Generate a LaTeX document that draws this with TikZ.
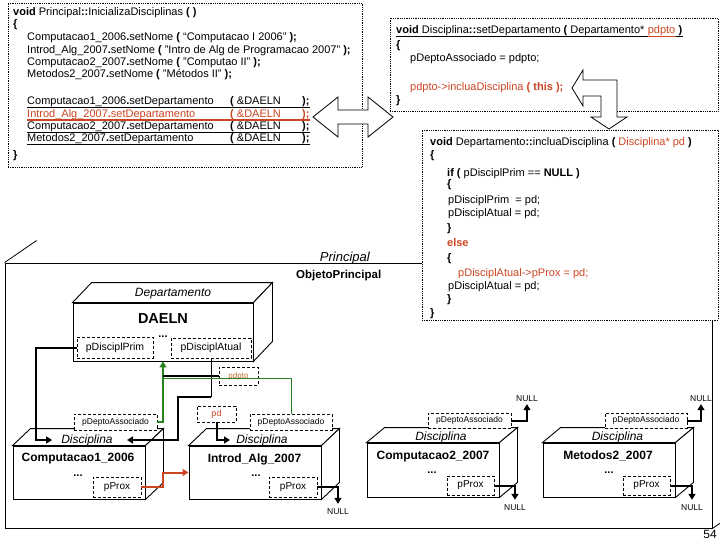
\documentclass[tikz,border=0pt]{standalone}
\usepackage{fontspec}
\setmainfont{Liberation Sans}
\usetikzlibrary{calc,arrows.meta}
\definecolor{cred}{RGB}{205,70,35}
\definecolor{cgreen}{RGB}{40,130,30}
\definecolor{cpdpto}{RGB}{190,110,40}
\newcommand\cubedepth[3]{%
  \draw[fill=white,line width=0.9pt] (#1.north west) -- ++(#2,-#3) -- ($(#1.north east)+(#2,-#3)$) -- (#1.north east) -- cycle;
  \draw[fill=white,line width=0.9pt] (#1.north east) -- ($(#1.north east)+(#2,-#3)$) -- ($(#1.south east)+(#2,-#3)$) -- (#1.south east) -- cycle;}
\begin{document}
\begin{tikzpicture}[x=1pt,y=-1pt,
  code/.style={font=\fontsize{11}{13}\selectfont, inner sep=0pt, anchor=base west},
  codebox/.style={draw, dash pattern=on 0.8pt off 1pt, fill=white, line width=0.7pt, inner sep=0pt},
  ptrbox/.style={draw, dash pattern=on 3pt off 2pt, fill=white, inner sep=0pt, line width=0.8pt},
  front/.style={draw, fill=white, line width=0.9pt, inner sep=0pt},
  ptr/.style={line width=2pt, -{Triangle[length=6pt,width=7pt]}},
  disc/.style={font=\fontsize{12}{14}\selectfont\itshape, inner sep=0pt},
  objname/.style={font=\fontsize{12}{14}\selectfont\bfseries, inner sep=0pt},
  dotsx/.style={font=\fontsize{11}{12}\selectfont\bfseries, inner sep=0pt},
  small/.style={font=\fontsize{8.5}{10}\selectfont},
  nulltxt/.style={font=\fontsize{8.5}{10}\selectfont, inner sep=0pt},
  bigarrow/.style={draw, fill=white, line width=0.8pt, line join=miter}]
\clip (0,0) rectangle (720,540);
\fill[white] (0,0) rectangle (720,540);

% ---------- Principal object ----------
\node[draw, line width=0.9pt, minimum width=707pt, minimum height=265pt, inner sep=0pt] (prin) at (358.5,395.5) {};
\draw[line width=0.8pt] (prin.north west) -- ++(32,-22);
\draw[line width=0.8pt] (prin.south east) -- ++(32,-22);
\node[font=\fontsize{13}{15}\selectfont\itshape, anchor=base east, inner sep=0pt] (plab) at (370,261) {Principal};
\node[font=\fontsize{11.5}{13}\selectfont\bfseries, anchor=base west, inner sep=0pt] (olab) at (296,278) {ObjetoPrincipal};

% ---------- Departamento DAELN ----------
\node[front, minimum width=180pt, minimum height=58pt] (dep) at (163,332) {};
\cubedepth{dep}{19}{20}
\node[font=\fontsize{12}{14}\selectfont\itshape, inner sep=0pt] (deplab) at (173,294) {Departamento};
\node[font=\fontsize{14.5}{16}\selectfont\bfseries, inner sep=0pt] (daeln) at (163,318.5) {DAELN};
\node[ptrbox, minimum width=76pt, minimum height=21pt, font=\fontsize{10.5}{12}\selectfont] (dprim) at (115,347.5) {pDisciplPrim};
\node[ptrbox, minimum width=80pt, minimum height=20pt, font=\fontsize{10.5}{12}\selectfont] (datual) at (211,348) {pDisciplAtual};
\node[dotsx] (ddots) at (163,336.5) {...};
\node[ptrbox, minimum width=39pt, minimum height=18pt, font=\fontsize{8}{9}\selectfont, text=cpdpto] (pdpto) at (238.5,376) {pdpto};

% ---------- Disciplina objects ----------
\node[front, minimum width=132pt, minimum height=53pt] (c1) at (79,472.5) {};
\cubedepth{c1}{18}{17}
\node[front, minimum width=132pt, minimum height=53pt] (i1) at (255,472.5) {};
\cubedepth{i1}{18}{17}
\node[front, minimum width=132pt, minimum height=54pt] (c2) at (433,470) {};
\cubedepth{c2}{18}{15}
\node[front, minimum width=132pt, minimum height=54pt] (m2) at (609,470) {};
\cubedepth{m2}{18}{15}

\node[disc] (c1lab) at (87,440) {Disciplina};
\node[objname] (c1name) at (78,459) {Computacao1\_2006};
\node[dotsx] (c1dots) at (78,476) {...};
\node[ptrbox, minimum width=83pt, minimum height=16pt, small] (c1pd) at (115.5,422) {pDeptoAssociado};
\node[ptrbox, minimum width=48pt, minimum height=20pt, font=\fontsize{10}{12}\selectfont] (c1prox) at (117,487) {pProx};

\node[disc] (i1lab) at (262,440) {Disciplina};
\node[objname] (i1name) at (254.5,459) {Introd\_Alg\_2007};
\node[dotsx] (i1dots) at (256,476) {...};
\node[ptrbox, minimum width=82pt, minimum height=16pt, small] (i1pd) at (291,422) {pDeptoAssociado};
\node[ptrbox, minimum width=48pt, minimum height=20pt, font=\fontsize{10}{12}\selectfont] (i1prox) at (293,487) {pProx};
\node[ptrbox, minimum width=39pt, minimum height=16pt, font=\fontsize{9}{10}\selectfont, text=cred] (pd) at (216.5,414) {pd};

\node[disc] (c2lab) at (441,437) {Disciplina};
\node[objname] (c2name) at (433,457) {Computacao2\_2007};
\node[dotsx] (c2dots) at (432,473) {...};
\node[ptrbox, minimum width=83pt, minimum height=15pt, small] (c2pd) at (469.5,420.5) {pDeptoAssociado};
\node[ptrbox, minimum width=47pt, minimum height=19pt, font=\fontsize{10}{12}\selectfont] (c2prox) at (470.5,485.5) {pProx};

\node[disc] (m2lab) at (617.5,437) {Disciplina};
\node[objname] (m2name) at (608,456) {Metodos2\_2007};
\node[dotsx] (m2dots) at (609,473) {...};
\node[ptrbox, minimum width=82pt, minimum height=15pt, small] (m2pd) at (646,420.5) {pDeptoAssociado};
\node[ptrbox, minimum width=47pt, minimum height=19pt, font=\fontsize{10}{12}\selectfont] (m2prox) at (646.5,485.5) {pProx};

% NULL labels
\node[nulltxt] (n1) at (338,512) {NULL};
\node[nulltxt] (n2) at (527,399) {NULL};
\node[nulltxt] (n3) at (515,508) {NULL};
\node[nulltxt] (n4) at (701,399) {NULL};
\node[nulltxt] (n5) at (692,508) {NULL};

% ---------- connectors ----------
\coordinate (c1back) at (127,440);
\coordinate (i1in) at (230,440);
\draw[ptr] (dprim.west) -| (36,440) -- ([xshift=-9pt]c1lab.west);
\draw[line width=0.8pt] (datual.south) -- ++(0,39) coordinate (k1);
\draw[ptr] (k1) -- ++(-33,0) |- (c1back);
\draw[cgreen, line width=1.8pt, -{Triangle[length=6pt,width=7pt]}] (c1pd.east) -- (c1pd.east -| dep.south) -- (dep.south);
\draw[line width=2pt] (pdpto.west) -- (dep.south |- pdpto.west);
\draw[cgreen, line width=1pt] (i1pd.north) |- ([yshift=-2pt]dep.south |- pdpto.west);
\draw[ptr] (pd.south) |- (i1in);
\draw[ptr, cred] (c1prox.east) -- ++(22,0) |- (i1.west);
\draw[ptr, shorten >=5pt] (i1prox.east) -| (n1.north);
\draw[ptr, shorten >=2pt] (c2pd.east) -| (n2.south);
\draw[ptr, shorten >=5pt] (c2prox.east) -| (n3.north);
\draw[ptr, shorten >=2pt] (m2pd.east) -| (n4.south);
\draw[ptr, shorten >=5pt] (m2prox.east) -| (n5.north);

% ---------- code box: Principal::InicializaDisciplinas ----------
\node[codebox, minimum width=354pt, minimum height=164pt] (tlbox) at (185,85) {};
\node[code] (l1) at (13,16) {\textbf{void} Principal\textbf{::}InicializaDisciplinas \textbf{( )}};
\node[code] (l2) at (13,28) {\textbf{\{}};
\node[code] (l3) at (27,41) {Computacao1\_2006\textbf{.}setNome \textbf{(} “Computacao I 2006" \textbf{);}};
\node[code] (l4) at (27,54) {Introd\_Alg\_2007\textbf{.}setNome \textbf{(} "Intro de Alg de Programacao 2007" \textbf{);}};
\node[code] (l5) at (27,66) {Computacao2\_2007\textbf{.}setNome \textbf{(} "Computao II" \textbf{);}};
\node[code] (l6) at (27,78) {Metodos2\_2007\textbf{.}setNome \textbf{(} "Métodos II" \textbf{);}};
\node[code] (d1a) at (27,105) {Computacao1\_2006\textbf{.}setDepartamento};
\node[code] (d1b) at (230,105) {\textbf{(} \&DAELN};
\node[code] (d1c) at (302,105) {\textbf{);}};
\node[code, text=cred] (d2a) at (27,117.5) {Introd\_Alg\_2007\textbf{.}setDepartamento};
\node[code, text=cred] (d2b) at (230,117.5) {\textbf{(} \&DAELN};
\node[code, text=cred] (d2c) at (302,117.5) {\textbf{);}};
\node[code] (d3a) at (27,130) {Computacao2\_2007\textbf{.}setDepartamento};
\node[code] (d3b) at (230,130) {\textbf{(} \&DAELN};
\node[code] (d3c) at (302,130) {\textbf{);}};
\node[code] (d4a) at (27,142) {Metodos2\_2007\textbf{.}setDepartamento};
\node[code] (d4b) at (230,142) {\textbf{(} \&DAELN};
\node[code] (d4c) at (302,142) {\textbf{);}};
\draw[line width=1.8pt] ([yshift=-2.5pt]d1a.base west) -- ([yshift=-2.5pt]d1c.base east);
\draw[line width=1.8pt, cred] ([yshift=-2.5pt]d2a.base west) -- ([yshift=-2.5pt]d2c.base east);
\draw[line width=1.8pt] ([yshift=-2.5pt]d3a.base west) -- ([yshift=-2.5pt]d3c.base east);
\draw[line width=1.8pt] ([yshift=-2.5pt]d4a.base west) -- ([yshift=-2.5pt]d4c.base east);
\node[code] (l7) at (13,159) {\textbf{\}}};

% ---------- code box: Disciplina::setDepartamento ----------
\node[codebox, minimum width=328pt, minimum height=93pt] (trbox) at (554,64.5) {};
\node[code] (r1a) at (396,34) {\textbf{void} Disciplina\textbf{::}setDepartamento \textbf{(} Departamento*};
\node[code, text=cred] (r1b) at ([xshift=3pt]r1a.base east) {pdpto};
\node[code] (r1c) at ([xshift=3pt]r1b.base east) {\textbf{)}};
\draw[line width=1.3pt] ([yshift=-2.5pt]r1a.base west) -- ([yshift=-2.5pt]r1b.base west);
\draw[line width=1.3pt, cred] ([yshift=-2.5pt]r1b.base west) -- ([yshift=-2.5pt]r1b.base east);
\draw[line width=1.3pt] ([yshift=-2.5pt]r1b.base east) -- ([yshift=-2.5pt]r1c.base east);
\node[code] (r2) at (396,49) {\textbf{\{}};
\node[code] (r3) at (410,62) {pDeptoAssociado = pdpto;};
\node[code, text=cred] (r4) at (410,91) {pdpto->incluaDisciplina \textbf{( this );}};
\node[code] (r5) at (396,104) {\textbf{\}}};

% ---------- code box: Departamento::incluaDisciplina ----------
\node[codebox, minimum width=296pt, minimum height=190pt] (mbox) at (570,225) {};
\node[code] (m1) at (430,146) {\textbf{void} Departamento\textbf{::}incluaDisciplina \textbf{(} \textcolor{cred}{Disciplina* pd} \textbf{)}};
\node[code] (m2l) at (430,159) {\textbf{\{}};
\node[code] (m3) at (447,177) {\textbf{if (} pDisciplPrim == \textbf{NULL )}};
\node[code] (m4) at (447,188) {\textbf{\{}};
\node[code] (m5) at (448,204) {pDisciplPrim \ = pd;};
\node[code] (m6) at (448,217) {pDisciplAtual = pd;};
\node[code] (m7) at (447,232) {\textbf{\}}};
\node[code, text=cred] (m8) at (447,247) {\textbf{else}};
\node[code] (m9) at (447,261) {\textbf{\{}};
\node[code, text=cred] (m10) at (458,276) {pDisciplAtual->pProx = pd;};
\node[code] (m11) at (448,289) {pDisciplAtual = pd;};
\node[code] (m12) at (447,302) {\textbf{\}}};
\node[code] (m13) at (430,316) {\textbf{\}}};

% ---------- big hollow arrows ----------
\draw[bigarrow] (313,117) -- (338,97) -- (338,110) -- (368,110) -- (368,97) -- (393,117)
  -- (368,137) -- (368,124) -- (338,124) -- (338,137) -- cycle;
\draw[bigarrow] (572,88) -- (583,70) -- (583,80) -- (617,80) -- (617,117) -- (627,117)
  -- (609,129) -- (591,117) -- (601,117) -- (601,96) -- (583,96) -- (583,106) -- cycle;

% page number
\node[font=\fontsize{12}{14}\selectfont, inner sep=0pt] (pg) at (710,534) {54};
\end{tikzpicture}
\end{document}
